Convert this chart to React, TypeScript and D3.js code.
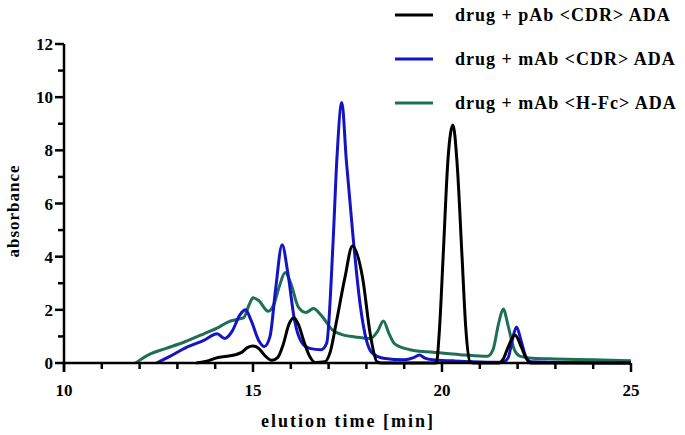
import React from "react";
import * as d3 from "d3";

const xTicksMajor = [10, 15, 20, 25];
const yTicksMajor = [0, 2, 4, 6, 8, 10, 12];

const pAbTime = [13.5, 13.8, 14.05, 14.3, 14.5, 14.7, 14.85, 15.0, 15.15, 15.3, 15.5, 15.65, 15.8, 15.95, 16.08, 16.2, 16.35, 16.5, 16.65, 16.9, 17.04, 17.2, 17.43, 17.63, 17.9, 18.1, 18.28, 18.4, 19.85, 19.93, 20.03, 20.16, 20.29, 20.4, 20.53, 20.63, 20.74, 20.85, 21.5, 21.62, 21.75, 21.93, 22.1, 22.22, 22.35, 25];
const pAbAbs = [0, 0.08, 0.2, 0.25, 0.3, 0.4, 0.58, 0.64, 0.55, 0.3, 0.1, 0.2, 0.7, 1.45, 1.7, 1.45, 0.8, 0.25, 0.02, 0.05, 0.4, 1.5, 3.2, 4.4, 3.2, 1.1, 0.05, 0, 0, 1.2, 4.0, 7.7, 8.95, 7.5, 4.0, 1.3, 0.05, 0, 0, 0.15, 0.6, 1.05, 0.6, 0.2, 0, 0];

const mAbCdrTime = [12.45, 12.8, 13.25, 13.7, 14.05, 14.25, 14.45, 14.65, 14.8, 14.95, 15.15, 15.3, 15.45, 15.6, 15.77, 15.92, 16.1, 16.3, 16.5, 16.8, 16.95, 17.12, 17.22, 17.35, 17.47, 17.65, 17.83, 18.0, 18.15, 18.45, 19.0, 19.25, 19.4, 19.55, 19.75, 20.3, 20.8, 21.6, 21.75, 21.85, 21.97, 22.1, 22.2, 22.35, 25];
const mAbCdrAbs = [0, 0.25, 0.6, 0.85, 1.1, 0.92, 1.2, 1.8, 2.0, 1.6, 0.85, 0.62, 1.0, 2.8, 4.45, 3.4, 1.6, 0.75, 0.55, 0.5, 0.75, 4.6, 7.7, 9.8, 7.6, 4.7, 2.25, 0.86, 0.38, 0.18, 0.12, 0.2, 0.3, 0.18, 0.12, 0.08, 0.05, 0.03, 0.2, 0.8, 1.35, 0.8, 0.3, 0.05, 0];

const mAbFcTime = [11.9, 12.05, 12.3, 12.7, 13.2, 13.7, 14.1, 14.35, 14.6, 14.75, 14.9, 15.0, 15.15, 15.4, 15.55, 15.7, 15.85, 16.0, 16.2, 16.4, 16.6, 16.8, 17.1, 17.4, 17.7, 18.1, 18.3, 18.45, 18.6, 18.75, 19.15, 19.6, 20.0, 20.6, 21.2, 21.35, 21.5, 21.62, 21.75, 21.9, 22.06, 22.4, 23.0, 24.0, 25];
const mAbFcAbs = [0, 0.15, 0.35, 0.55, 0.8, 1.1, 1.35, 1.55, 1.65, 1.7, 2.2, 2.45, 2.35, 1.95, 2.2, 2.9, 3.4, 3.0, 2.1, 1.9, 2.05, 1.8, 1.25, 1.05, 0.98, 0.92, 1.2, 1.58, 1.1, 0.72, 0.5, 0.42, 0.38, 0.3, 0.25, 0.5, 1.5, 2.03, 1.4, 0.55, 0.26, 0.18, 0.15, 0.12, 0.08];

const seriesNames = ["drug + pAb <CDR> ADA", "drug + mAb <CDR> ADA", "drug + mAb <H-Fc> ADA"];
const seriesColors = ["#000000", "#1414c4", "#1d7056"];

export default function App() {
  const x = d3.scaleLinear().domain([10, 25]).range([64, 631]);
  const y = d3.scaleLinear().domain([0, 12]).range([363, 44]);
  const line = d3
    .line<[number, number]>()
    .x((d) => x(d[0]))
    .y((d) => y(d[1]))
    .curve(d3.curveMonotoneX);

  const series = [
    d3.zip(pAbTime, pAbAbs) as [number, number][],
    d3.zip(mAbCdrTime, mAbCdrAbs) as [number, number][],
    d3.zip(mAbFcTime, mAbFcAbs) as [number, number][],
  ];
  const drawOrder = [2, 1, 0];
  const xMinor = d3.range(10, 26, 1);
  const yMinor = d3.range(0, 13, 1);
  const font = "'Liberation Serif', 'Times New Roman', serif";

  return (
    <svg
      width={685}
      height={435}
      style={{ position: "absolute", left: 0, top: 0, background: "#fff" }}
      fontFamily={font}
      fontWeight="bold"
    >
      {drawOrder.map((i) => (
        <path
          key={i}
          d={line(series[i]) || ""}
          fill="none"
          stroke={seriesColors[i]}
          strokeWidth={3}
          strokeLinejoin="round"
        />
      ))}
      {/* axes */}
      <line x1={x(10)} x2={x(25)} y1={y(0)} y2={y(0)} stroke="#000" strokeWidth={2.5} />
      <line x1={x(10)} x2={x(10)} y1={y(0) + 8} y2={y(12)} stroke="#000" strokeWidth={2.5} />
      {xMinor.map((t) => (
        <line
          key={"xm" + t}
          x1={x(t)}
          x2={x(t)}
          y1={y(0)}
          y2={y(0) + (t % 5 === 0 ? 9 : 6)}
          stroke="#000"
          strokeWidth={2.5}
        />
      ))}
      {yMinor.map((v) => (
        <line
          key={"ym" + v}
          x1={x(10) - (v % 2 === 0 ? 9 : 6)}
          x2={x(10)}
          y1={y(v)}
          y2={y(v)}
          stroke="#000"
          strokeWidth={2.5}
        />
      ))}
      {xTicksMajor.map((t) => (
        <text key={"xl" + t} x={x(t)} y={396} textAnchor="middle" fontSize={17}>
          {t}
        </text>
      ))}
      {yTicksMajor.map((v) => (
        <text key={"yl" + v} x={53} y={y(v) + 6} textAnchor="end" fontSize={17}>
          {v}
        </text>
      ))}
      <text x={348} y={427} textAnchor="middle" fontSize={18} letterSpacing={2}>
        elution time [min]
      </text>
      <text
        transform={`translate(19,211) rotate(-90)`}
        textAnchor="middle"
        fontSize={17}
        letterSpacing={1}
      >
        absorbance
      </text>
      {/* legend */}
      {seriesNames.map((name, i) => (
        <g key={name} transform={`translate(0, ${15 + i * 44})`}>
          <line x1={395} x2={433} y1={0} y2={0} stroke={seriesColors[i]} strokeWidth={3} />
          <text x={455} y={6} fontSize={18} letterSpacing={1}>
            {name}
          </text>
        </g>
      ))}
    </svg>
  );
}
